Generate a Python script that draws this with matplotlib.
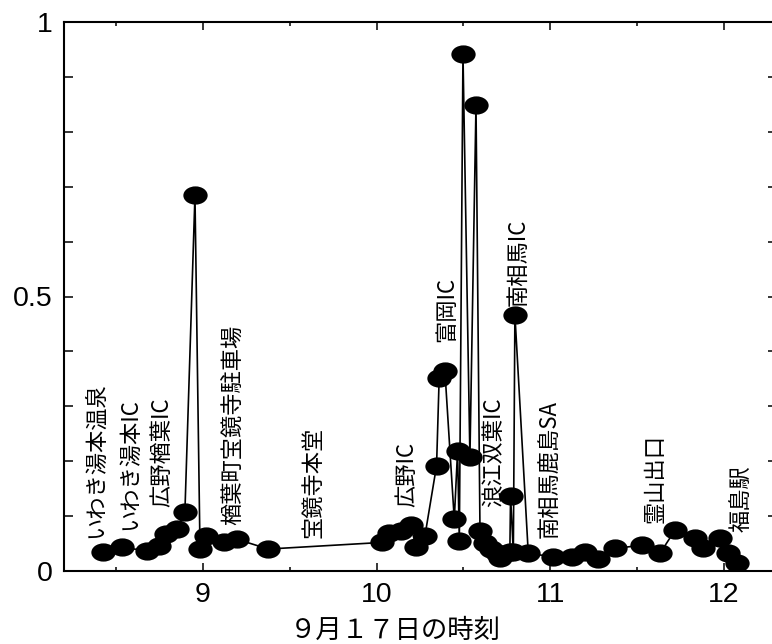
import numpy as np
import matplotlib
matplotlib.use("Agg")
import matplotlib.pyplot as plt
from matplotlib.path import Path
from matplotlib.transforms import Affine2D
from matplotlib.ticker import MultipleLocator, FixedLocator

plt.rcParams['font.family'] = ['Liberation Sans', 'Noto Sans CJK JP', 'DejaVu Sans']

# time of day (hours) on 17 September and measured value
times = [8.423, 8.532, 8.676, 8.749, 8.787, 8.849, 8.896, 8.954, 8.983, 9.015,
         9.121, 9.194, 9.376, 10.029, 10.073, 10.14, 10.196, 10.227, 10.278,
         10.345, 10.360, 10.393, 10.447, 10.466, 10.476, 10.497, 10.537, 10.572,
         10.595, 10.624, 10.66, 10.691, 10.71, 10.767, 10.771, 10.787, 10.796,
         10.873, 11.017, 11.125, 11.199, 11.276, 11.372, 11.526, 11.631, 11.717,
         11.832, 11.880, 11.976, 12.024, 12.073]
values = [0.034, 0.043, 0.037, 0.046, 0.067, 0.077, 0.107, 0.684, 0.040, 0.064,
          0.052, 0.058, 0.040, 0.052, 0.069, 0.072, 0.083, 0.044, 0.064,
          0.192, 0.352, 0.364, 0.094, 0.219, 0.054, 0.942, 0.207, 0.849,
          0.072, 0.051, 0.040, 0.032, 0.024, 0.035, 0.137, 0.034, 0.467,
          0.032, 0.026, 0.026, 0.034, 0.021, 0.041, 0.047, 0.032, 0.074,
          0.060, 0.041, 0.061, 0.032, 0.014]

# place labels (vertical text)
place_names = ['いわき湯本温泉', 'いわき湯本IC', '広野楢葉IC', '楢葉町宝鏡寺駐車場',
               '宝鏡寺本堂', '広野IC', '富岡IC', '浪江双葉IC', '南相馬IC',
               '南相馬鹿島SA', '霊山出口', '福島駅']
place_x = [8.38, 8.58, 8.766, 9.173, 9.634, 10.175, 10.405, 10.676, 10.813,
           10.997, 11.606, 12.10]
place_y = [0.060, 0.075, 0.117, 0.084, 0.060, 0.117, 0.418, 0.117, 0.482,
           0.060, 0.088, 0.071]

x_major = [9, 10, 11, 12]
x_major_labels = ['9', '10', '11', '12']
y_major = [0, 0.5, 1]
y_major_labels = ['0', '0.5', '1']
xlabel = '９月１７日の時刻'

W, H = 772, 644
fig = plt.figure(figsize=(W / 100, H / 100), dpi=100)
ax = fig.add_axes([64 / W, 1 - 571 / H, (777 - 64) / W, (571 - 22) / H])

# elliptical marker (wider than tall)
circ = Path.unit_circle()
ell = Affine2D().scale(1.0, 0.75).transform_path(circ)

ax.plot(times, values, color='black', lw=1.2, marker=ell, markersize=17.5,
        markerfacecolor='black', markeredgewidth=0, zorder=3)

for name, px, py in zip(place_names, place_x, place_y):
    ax.text(px, py, name, rotation=90, ha='center', va='bottom',
            fontsize=16, family=['Noto Sans CJK JP'], zorder=4)

ax.set_xlim(8.2, 12.305)
ax.set_ylim(0, 1)
ax.xaxis.set_major_locator(FixedLocator(x_major))
ax.set_xticklabels(x_major_labels)
ax.xaxis.set_minor_locator(MultipleLocator(0.5))
ax.yaxis.set_major_locator(FixedLocator(y_major))
ax.set_yticklabels(y_major_labels)
ax.yaxis.set_minor_locator(MultipleLocator(0.1))

ax.tick_params(axis='both', which='both', direction='in', top=True, right=True,
               width=1.1, labelsize=20.5, pad=8)
ax.tick_params(axis='x', which='major', length=6)
ax.tick_params(axis='x', which='minor', length=3)
ax.tick_params(axis='y', which='both', length=6.5)
for s in ax.spines.values():
    s.set_linewidth(1.5)

fig.text(395 / W, 1 - 630 / H, xlabel, ha='center', va='center',
         fontsize=19, family=['Noto Sans CJK JP'])

fig.savefig('out.png', dpi=100)
